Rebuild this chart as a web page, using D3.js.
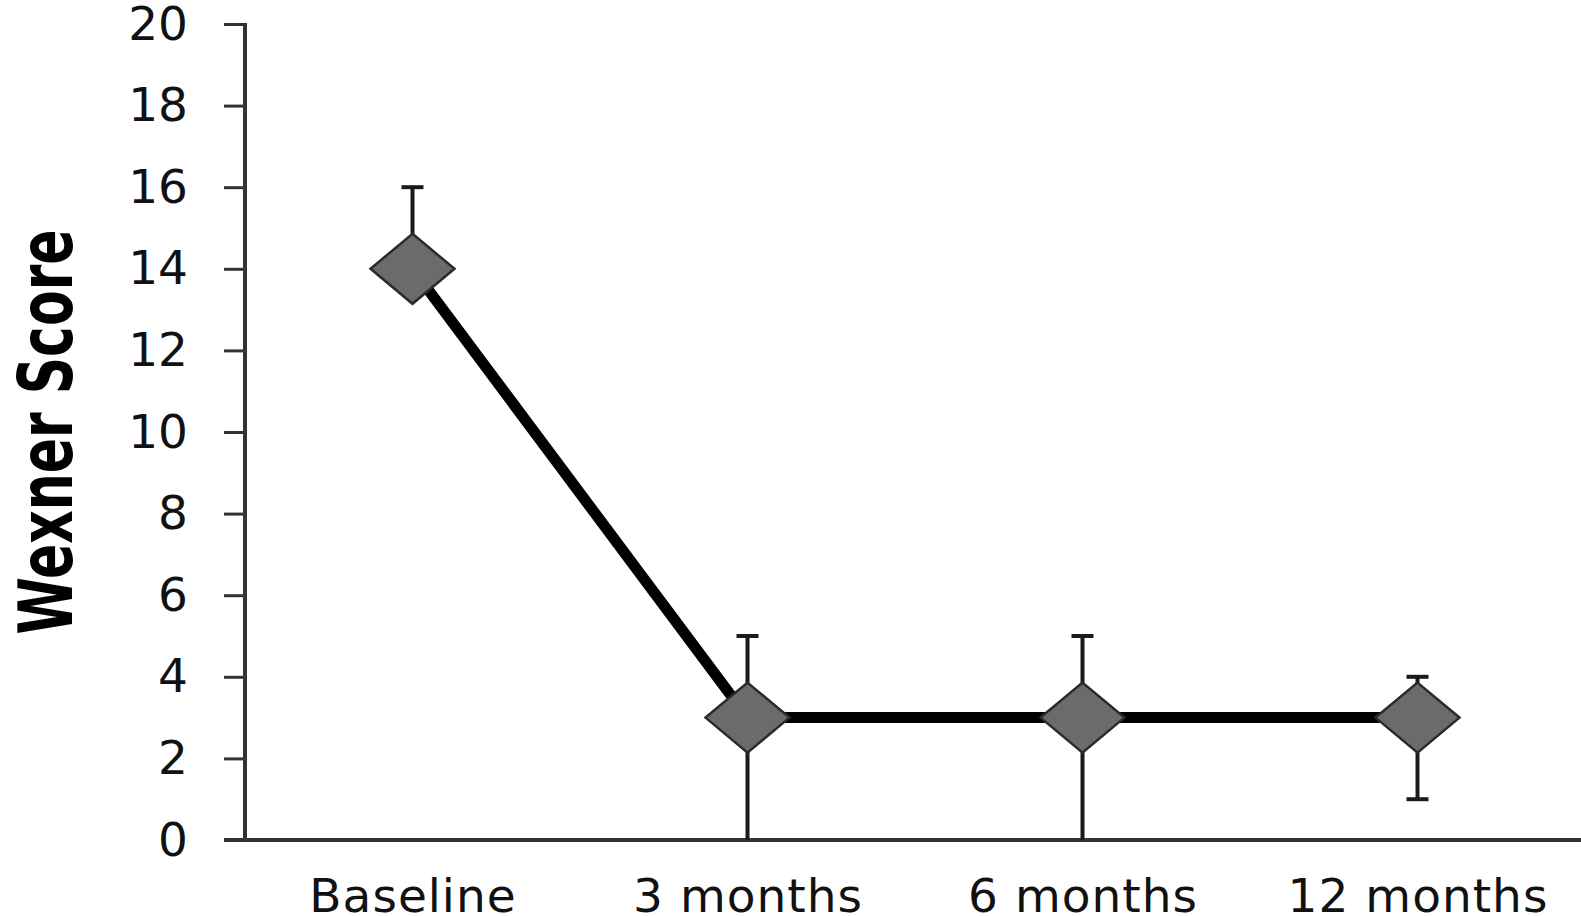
<!DOCTYPE html>
<html>
<head>
<meta charset="utf-8">
<script src="https://cdn.jsdelivr.net/npm/d3@7"></script>
<style>
  body { margin: 0; background: #fff; }
  svg { display: block; }
</style>
</head>
<body>
<div id="chart"></div>
<script>
const categories = ["Baseline", "3 months", "6 months", "12 months"];
const scores = [14, 3, 3, 3];
const errUpper = [16, 5, 5, 4];
const errLower = [14, 0, 0, 1];
const yTicks = [0, 2, 4, 6, 8, 10, 12, 14, 16, 18, 20];
const yTitle = "Wexner Score";

const width = 1581;
const height = 916;
const plotLeft = 245, plotTop = 24, plotBottom = 840, plotRight = 1585;

const svg = d3.select("#chart")
    .append("svg")
    .attr("width", width)
    .attr("height", height);

const x = d3.scalePoint()
    .domain(categories)
    .range([plotLeft, plotRight])
    .padding(0.5);

const y = d3.scaleLinear()
    .domain([0, 20])
    .range([plotBottom, plotTop]);

// y axis
const yAxis = svg.append("g")
    .attr("transform", `translate(${plotLeft},0)`)
    .call(d3.axisLeft(y).tickValues(yTicks).tickSize(21).tickPadding(36));
yAxis.select(".domain").remove();
yAxis.selectAll(".tick line").attr("stroke", "#333").attr("stroke-width", 3);
yAxis.selectAll(".tick text")
    .attr("fill", "#111")
    .style("font-family", "'DejaVu Sans', sans-serif")
    .style("font-size", "47px");

svg.append("line")
    .attr("x1", plotLeft).attr("x2", plotLeft)
    .attr("y1", y(20) - 1).attr("y2", plotBottom)
    .attr("stroke", "#333").attr("stroke-width", 4);

// x axis
const xAxis = svg.append("g")
    .attr("transform", `translate(0,${plotBottom})`)
    .call(d3.axisBottom(x).tickSize(0));
xAxis.select(".domain").remove();
xAxis.selectAll(".tick text")
    .attr("y", 72)
    .attr("dy", 0)
    .attr("fill", "#111")
    .style("font-family", "'DejaVu Sans', sans-serif")
    .style("font-size", "47px")
    .style("letter-spacing", "1px");

svg.append("line")
    .attr("x1", plotLeft - 21).attr("x2", width)
    .attr("y1", plotBottom).attr("y2", plotBottom)
    .attr("stroke", "#333").attr("stroke-width", 4);

// y title
svg.append("text")
    .attr("transform", `translate(72,432) rotate(-90)`)
    .attr("text-anchor", "middle")
    .attr("textLength", 405)
    .attr("lengthAdjust", "spacingAndGlyphs")
    .style("font-family", "'DejaVu Sans', sans-serif")
    .style("font-weight", "bold")
    .style("font-size", "74px")
    .attr("fill", "#000")
    .attr("x", 0)
    .text(yTitle);

// error bars
const errs = categories.map((c, i) => ({ c, lo: errLower[i], hi: errUpper[i] }));
const eb = svg.append("g").attr("stroke", "#1a1a1a").attr("stroke-width", 4);
eb.selectAll("line.stem")
    .data(errs)
    .join("line")
    .attr("class", "stem")
    .attr("x1", d => x(d.c)).attr("x2", d => x(d.c))
    .attr("y1", d => y(d.hi)).attr("y2", d => y(d.lo));
eb.selectAll("line.capHi")
    .data(errs)
    .join("line")
    .attr("class", "capHi")
    .attr("x1", d => x(d.c) - 11).attr("x2", d => x(d.c) + 11)
    .attr("y1", d => y(d.hi)).attr("y2", d => y(d.hi));
eb.selectAll("line.capLo")
    .data(errs.filter(d => d.lo > 0))
    .join("line")
    .attr("class", "capLo")
    .attr("x1", d => x(d.c) - 11).attr("x2", d => x(d.c) + 11)
    .attr("y1", d => y(d.lo)).attr("y2", d => y(d.lo));

// line
const pts = categories.map((c, i) => [x(c), y(scores[i])]);
svg.append("path")
    .attr("d", d3.line()(pts))
    .attr("fill", "none")
    .attr("stroke", "#000")
    .attr("stroke-width", 11);

// diamonds
const hw = 42, hh = 35;
svg.selectAll("path.marker")
    .data(pts)
    .join("path")
    .attr("class", "marker")
    .attr("d", d => `M${d[0]},${d[1] - hh}L${d[0] + hw},${d[1]}L${d[0]},${d[1] + hh}L${d[0] - hw},${d[1]}Z`)
    .attr("fill", "#6b6b6b")
    .attr("stroke", "#2a2a2a")
    .attr("stroke-width", 2.5);
</script>
</body>
</html>
